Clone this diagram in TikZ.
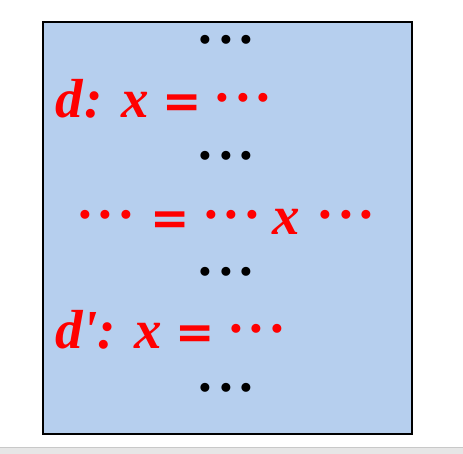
\documentclass[tikz,border=0pt]{standalone}
\usepackage{fontspec}
\setmainfont{Liberation Serif}
\newfontfamily\symf{DejaVu Sans}
\definecolor{boxblue}{HTML}{B6CFEE}
\definecolor{stripgray}{HTML}{E6E6E6}
\definecolor{stripline}{HTML}{C8C8C8}
\newcommand{\dotrow}{{\upshape.\kern6.8pt.\kern6.8pt.}}
\newcommand{\dts}{\raisebox{16pt}{\dotrow}}
\newcommand{\eqs}{{\symf\bfseries\fontsize{47}{50}\selectfont =}}
\tikzset{
  panel/.style={draw=black, line width=2pt, fill=boxblue},
  redtxt/.style={text=red, inner sep=0pt, font=\fontsize{55}{58}\selectfont\bfseries\itshape},
  blacktxt/.style={text=black, inner sep=0pt, font=\fontsize{55}{58}\selectfont\bfseries}
}
\begin{document}
\begin{tikzpicture}[x=1pt,y=-1pt]
\useasboundingbox (0,0) rectangle (463,454);
\fill[stripgray] (0,447) rectangle (463,454);
\draw[stripline, line width=1pt] (0,447) -- (463,447);
\node[panel, minimum width=368.5pt, minimum height=412pt, inner sep=0pt, anchor=north west] (box) at (42.2,20.7) {};
\node[blacktxt, anchor=center] (r1) at (226,40) {\dotrow};
\node[redtxt, anchor=base west] (r2) at (55,118) {d\kern2pt: x \eqs{} \dts};
\node[blacktxt, anchor=center] (r3) at (226,155.7) {\dotrow};
\node[redtxt, anchor=base] (r4) at (226,235) {\dts\kern4pt{} \eqs{} \dts{} x\kern5pt{} \dts};
\node[blacktxt, anchor=center] (r5) at (226,271.7) {\dotrow};
\node[redtxt, anchor=base west] (r6) at (55,348) {d\textquotesingle: x \eqs{} \dts};
\node[blacktxt, anchor=center] (r7) at (226,387.7) {\dotrow};
\end{tikzpicture}
\end{document}
